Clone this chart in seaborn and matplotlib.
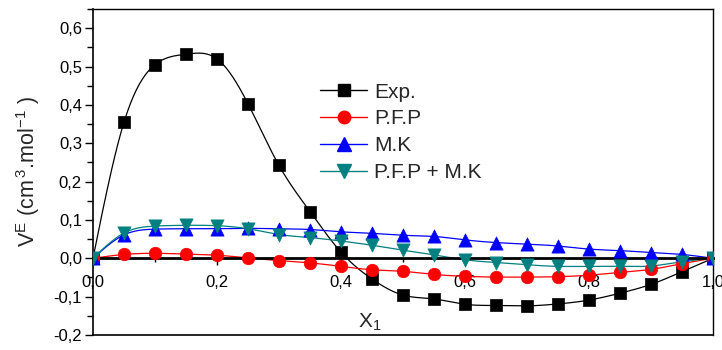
import numpy as np
import pandas as pd
import matplotlib
matplotlib.use("Agg")
import matplotlib.pyplot as plt
from matplotlib.lines import Line2D
from matplotlib.ticker import MultipleLocator, FuncFormatter
import seaborn as sns

# ---- data ----
x1 = [0.00, 0.05, 0.10, 0.15, 0.20, 0.25, 0.30, 0.35, 0.40, 0.45, 0.50,
      0.55, 0.60, 0.65, 0.70, 0.75, 0.80, 0.85, 0.90, 0.95, 1.00]
exp_vals = [0.000, 0.355, 0.505, 0.532, 0.520, 0.403, 0.242, 0.122, 0.016, -0.054, -0.096,
            -0.106, -0.120, -0.123, -0.124, -0.119, -0.109, -0.091, -0.068, -0.035, 0.000]
pfp_vals = [0.000, 0.010, 0.013, 0.011, 0.008, 0.001, -0.006, -0.012, -0.021, -0.030, -0.034,
            -0.042, -0.047, -0.049, -0.049, -0.048, -0.044, -0.037, -0.029, -0.014, 0.000]
mk_vals = [0.000, 0.061, 0.076, 0.077, 0.077, 0.078, 0.077, 0.075, 0.069, 0.065, 0.060,
           0.057, 0.048, 0.041, 0.037, 0.032, 0.024, 0.020, 0.015, 0.010, 0.000]
pfpmk_vals = [0.000, 0.066, 0.084, 0.086, 0.085, 0.077, 0.062, 0.054, 0.045, 0.034, 0.021,
              0.009, -0.004, -0.011, -0.017, -0.021, -0.021, -0.021, -0.020, -0.009, 0.000]
series_names = ["Exp.", "P.F.P", "M.K", "P.F.P + M.K"]
series_vals = [exp_vals, pfp_vals, mk_vals, pfpmk_vals]
colors = ["#000000", "#ff0000", "#0000ff", "#008080"]
markers = ["s", "o", "^", "v"]
msizes = [9, 9, 9.5, 9.5]
x_ticks = [0.0, 0.2, 0.4, 0.6, 0.8, 1.0]
y_ticks = [-0.2, -0.1, 0.0, 0.1, 0.2, 0.3, 0.4, 0.5, 0.6]


def natural_spline(x, y, n=400):
    x = np.asarray(x, float); y = np.asarray(y, float)
    m = len(x); h = np.diff(x)
    A = np.zeros((m, m)); b = np.zeros(m)
    A[0, 0] = 1; A[-1, -1] = 1
    for i in range(1, m - 1):
        A[i, i - 1] = h[i - 1]; A[i, i] = 2 * (h[i - 1] + h[i]); A[i, i + 1] = h[i]
        b[i] = 6 * ((y[i + 1] - y[i]) / h[i] - (y[i] - y[i - 1]) / h[i - 1])
    M = np.linalg.solve(A, b)
    xf = np.linspace(x[0], x[-1], n)
    idx = np.clip(np.searchsorted(x, xf) - 1, 0, m - 2)
    xi, xj = x[idx], x[idx + 1]; hi = xj - xi
    yf = (M[idx] * (xj - xf) ** 3 / (6 * hi) + M[idx + 1] * (xf - xi) ** 3 / (6 * hi)
          + (y[idx] / hi - M[idx] * hi / 6) * (xj - xf)
          + (y[idx + 1] / hi - M[idx + 1] * hi / 6) * (xf - xi))
    return xf, yf


sns.set_style("white")
plt.rcParams["font.family"] = ["Liberation Sans", "DejaVu Sans"]
plt.rcParams["mathtext.default"] = "regular"

fig = plt.figure(figsize=(7.22, 3.5), dpi=100)
ax = fig.add_axes([93 / 722, 1 - 335 / 350, 620 / 722, 326 / 350])

handles = []
for name, vals, c, mk, ms in zip(series_names, series_vals, colors, markers, msizes):
    xf, yf = natural_spline(x1, vals)
    sns.lineplot(x=xf, y=yf, ax=ax, color=c, lw=0.9, sort=False, zorder=2)
    sns.scatterplot(x=x1, y=vals, ax=ax, color=c, marker=mk, s=ms ** 2,
                    edgecolor=c, linewidth=0.5, zorder=3)
    handles.append(Line2D([], [], color=c, lw=1, marker=mk, markersize=ms,
                          markeredgecolor=c, label=name))

ax.set_xlim(0, 1.0)
ax.set_ylim(-0.2, 0.65)

for s in ["top", "right", "left", "bottom"]:
    ax.spines[s].set_visible(True)
    ax.spines[s].set_color("black")
ax.spines["bottom"].set_position(("data", 0))
ax.spines["bottom"].set_linewidth(2)
ax.spines["left"].set_linewidth(1.2)
ax.spines["top"].set_linewidth(1)
ax.spines["right"].set_linewidth(1)
ax.axhline(-0.2, color="black", lw=1.2, clip_on=False, zorder=5)

fmt = FuncFormatter(lambda v, p: f"{v:.1f}".replace(".", ","))
ax.set_xticks(x_ticks)
ax.set_yticks(y_ticks)
ax.xaxis.set_major_formatter(fmt)
ax.yaxis.set_major_formatter(fmt)
ax.xaxis.set_minor_locator(MultipleLocator(0.1))
ax.yaxis.set_minor_locator(MultipleLocator(0.05))
ax.tick_params(axis="y", which="major", direction="out", length=6, width=1,
               labelsize=12, color="black", labelcolor="black", pad=2)
ax.tick_params(axis="y", which="minor", direction="out", length=4, width=1, color="black")
ax.tick_params(axis="x", which="major", direction="out", length=5, width=1,
               labelsize=12, color="black", labelcolor="black", pad=7)
ax.tick_params(axis="x", which="minor", direction="out", length=3, width=1, color="black")
ax.tick_params(axis="x", which="both", bottom=True, top=False)
ax.tick_params(axis="y", which="both", left=True, right=False)

ax.set_xlabel("")
ax.set_ylabel(r"V$^{E}$ (cm$^{\,3}$.mol$^{-1}$ )", fontsize=15.5, labelpad=8)
ax.text(0.447, -0.168, r"X$_{1}$", transform=ax.transData,
        fontsize=15, ha="center", va="center")

leg = ax.legend(handles=handles, loc="upper left", bbox_to_anchor=(0.353, 0.80),
                frameon=False, fontsize=15, handlelength=2.25, handletextpad=0.35,
                labelspacing=0.38, borderaxespad=0)

fig.savefig("out.png", dpi=100)
